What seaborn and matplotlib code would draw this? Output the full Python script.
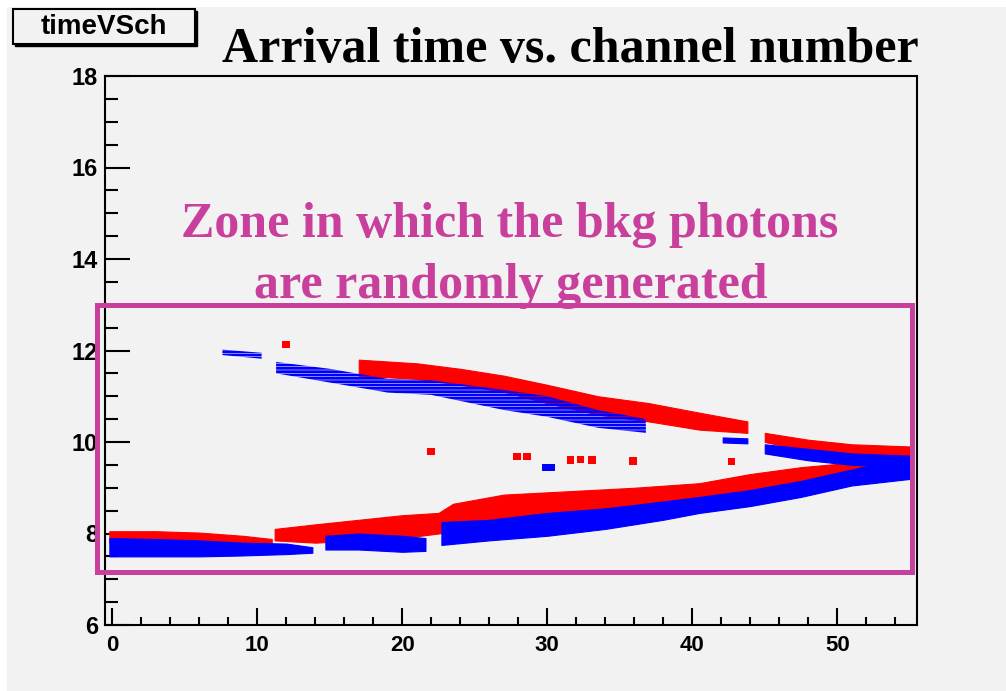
import numpy as np
import pandas as pd
import seaborn as sns
import matplotlib.pyplot as plt
from matplotlib.patches import Rectangle
from matplotlib.ticker import MultipleLocator

# ===========================================================================
# 1. DATA (band edges, channel vs. arrival time)
# ===========================================================================

# lower band - red
red_low1_ch = [-0.2, 3, 6, 9, 11]
red_low1_top = [8.05, 8.05, 8.02, 7.95, 7.88]
red_low1_bot = [7.80, 7.80, 7.78, 7.72, 7.70]

red_low2_ch = [11.2, 14, 17, 20, 22.5, 23.5, 27, 30, 33, 36, 40.5, 44, 47.5, 51, 55.2]
red_low2_top = [8.10, 8.20, 8.30, 8.40, 8.45, 8.65, 8.85, 8.90, 8.95, 9.00, 9.10, 9.30, 9.45, 9.55, 9.85]
red_low2_bot = [7.85, 7.80, 7.85, 7.90, 8.00, 8.05, 8.10, 8.20, 8.30, 8.45, 8.70, 8.85, 9.00, 9.20, 9.50]

# lower band - blue
blue_low1_ch = [-0.2, 3, 6, 9, 12, 13.8]
blue_low1_top = [7.90, 7.88, 7.85, 7.80, 7.78, 7.70]
blue_low1_bot = [7.50, 7.50, 7.50, 7.52, 7.55, 7.58]

blue_low2_ch = [14.7, 17, 20, 21.6]
blue_low2_top = [7.95, 8.00, 7.95, 7.90]
blue_low2_bot = [7.65, 7.65, 7.60, 7.62]

blue_low3_ch = [22.7, 26, 30, 34, 38, 40.5, 44, 47.5, 51, 55.2]
blue_low3_top = [8.25, 8.30, 8.45, 8.55, 8.70, 8.80, 8.95, 9.15, 9.40, 9.70]
blue_low3_bot = [7.75, 7.85, 7.95, 8.10, 8.30, 8.45, 8.60, 8.80, 9.05, 9.20]

# upper band - blue
blue_up1_ch = [7.6, 10.3]
blue_up1_top = [12.02, 11.95]
blue_up1_bot = [11.90, 11.82]

blue_up2_ch = [11.3, 15, 19, 22, 27, 30, 33.5, 36.8]
blue_up2_top = [11.75, 11.60, 11.38, 11.35, 11.14, 11.00, 10.70, 10.50]
blue_up2_bot = [11.50, 11.30, 11.08, 11.03, 10.70, 10.55, 10.31, 10.20]

blue_up3_ch = [42.1, 43.8]
blue_up3_top = [10.10, 10.08]
blue_up3_bot = [9.99, 9.97]

blue_up4_ch = [45.0, 48, 51, 55.2]
blue_up4_top = [9.95, 9.85, 9.75, 9.70]
blue_up4_bot = [9.75, 9.60, 9.50, 9.45]

# upper band - red
red_up1_ch = [17.0, 21, 24, 27, 30, 33.5, 37, 40.5, 43.8]
red_up1_top = [11.80, 11.72, 11.60, 11.45, 11.25, 11.00, 10.85, 10.64, 10.45]
red_up1_bot = [11.45, 11.38, 11.25, 11.10, 10.85, 10.60, 10.45, 10.27, 10.20]

red_up2_ch = [45.0, 48, 51, 55.2]
red_up2_top = [10.20, 10.05, 9.95, 9.90]
red_up2_bot = [10.00, 9.80, 9.65, 9.55]

# isolated hits
spot_ch = [12.0, 22.0, 27.9, 28.6, 31.6, 32.3, 33.1, 35.9, 42.7, 29.9, 30.3]
spot_t = [12.13, 9.79, 9.68, 9.68, 9.60, 9.62, 9.60, 9.58, 9.57, 9.44, 9.44]
spot_col = ['red'] * 9 + ['blue'] * 2

x_ticks = [0, 10, 20, 30, 40, 50]
y_ticks = [6, 8, 10, 12, 14, 16, 18]

# ===========================================================================
# 2. PLOT
# ===========================================================================

sns.set_theme(style='ticks')
plt.rcParams['font.family'] = ['Liberation Sans', 'DejaVu Sans']
plt.rcParams['hatch.linewidth'] = 2.0

bg = '#f2f2f2'
pink = '#c83f9c'

fig = plt.figure(figsize=(10.06, 6.91), dpi=100, facecolor='white')
fig.patches.append(Rectangle((7 / 1006, 0), 1, 1 - 7 / 691, transform=fig.transFigure,
                             facecolor=bg, edgecolor='none', zorder=-10))
ax = fig.add_axes([105 / 1006, 1 - 625 / 691, (917 - 105) / 1006, (625 - 76) / 691])
ax.set_facecolor(bg)


def band(ch, top, bot, color, sparse=False):
    # sparse bands (scattered hits) get a dashed hatch instead of a solid fill
    if sparse:
        ax.fill_between(ch, bot, top, facecolor='none', edgecolor=color, hatch='-----', lw=0)
    else:
        ax.fill_between(ch, bot, top, color=color, lw=0.8, edgecolor=color)


band(red_low1_ch, red_low1_top, red_low1_bot, 'red')
band(red_low2_ch, red_low2_top, red_low2_bot, 'red')
band(red_up1_ch, red_up1_top, red_up1_bot, 'red')
band(red_up2_ch, red_up2_top, red_up2_bot, 'red')
band(blue_low1_ch, blue_low1_top, blue_low1_bot, 'blue')
band(blue_low2_ch, blue_low2_top, blue_low2_bot, 'blue')
band(blue_low3_ch, blue_low3_top, blue_low3_bot, 'blue')
band(blue_up1_ch, blue_up1_top, blue_up1_bot, 'blue', sparse=True)
band(blue_up2_ch, blue_up2_top, blue_up2_bot, 'blue', sparse=True)
band(blue_up3_ch, blue_up3_top, blue_up3_bot, 'blue')
band(blue_up4_ch, blue_up4_top, blue_up4_bot, 'blue')

spots = pd.DataFrame({'ch': spot_ch, 't': spot_t, 'col': spot_col})
sns.scatterplot(data=spots, x='ch', y='t', hue='col', palette={'red': 'red', 'blue': 'blue'},
                marker='s', s=30, linewidth=0, legend=False, ax=ax)

ax.set_xlim(-0.5, 55.5)
ax.set_ylim(6, 18)
ax.set_xticks(x_ticks)
ax.set_yticks(y_ticks)
ax.xaxis.set_minor_locator(MultipleLocator(2))
ax.yaxis.set_minor_locator(MultipleLocator(0.5))
ax.set_xlabel('')
ax.set_ylabel('')
ax.tick_params(which='both', direction='in', width=1.5, color='black',
               labelcolor='black', top=False, right=False)
ax.tick_params(axis='x', which='major', length=12, pad=7, labelsize=16)
ax.tick_params(axis='x', which='minor', length=6)
ax.tick_params(axis='y', which='major', length=18, pad=5, labelsize=17)
ax.tick_params(axis='y', which='minor', length=9)
for lab in ax.get_xticklabels() + ax.get_yticklabels():
    lab.set_fontweight('bold')
for sp in ax.spines.values():
    sp.set_linewidth(1.5)
    sp.set_color('black')

# zone where bkg photons are generated
ax.add_patch(Rectangle((-1.08, 7.15), 55.13 + 1.08, 13 - 7.15, fill=False,
                       edgecolor=pink, lw=3.6, clip_on=False, zorder=5))

fig.text(510 / 1006, 1 - 237 / 691, 'Zone in which the bkg photons', color=pink,
         family='Liberation Serif', weight='bold', fontsize=36, ha='center', va='baseline')
fig.text(511 / 1006, 1 - 298 / 691, 'are randomly generated', color=pink,
         family='Liberation Serif', weight='bold', fontsize=36, ha='center', va='baseline')

# title and histogram name box
fig.text(570 / 1006, 1 - 62 / 691, 'Arrival time vs. channel number', color='black',
         family='Liberation Serif', weight='bold', fontsize=36, ha='center', va='baseline')

fig.patches.append(Rectangle((15 / 1006, 1 - 46 / 691), 182 / 1006, 35 / 691,
                             transform=fig.transFigure, facecolor='black', edgecolor='black'))
fig.patches.append(Rectangle((13 / 1006, 1 - 44 / 691), 182 / 1006, 35 / 691,
                             transform=fig.transFigure, facecolor=bg, edgecolor='black', lw=1.5))
fig.text(104 / 1006, 1 - 27 / 691, 'timeVSch', fontsize=20, weight='bold', color='black',
         ha='center', va='center')

fig.savefig('out.png', dpi=100, facecolor=fig.get_facecolor())
